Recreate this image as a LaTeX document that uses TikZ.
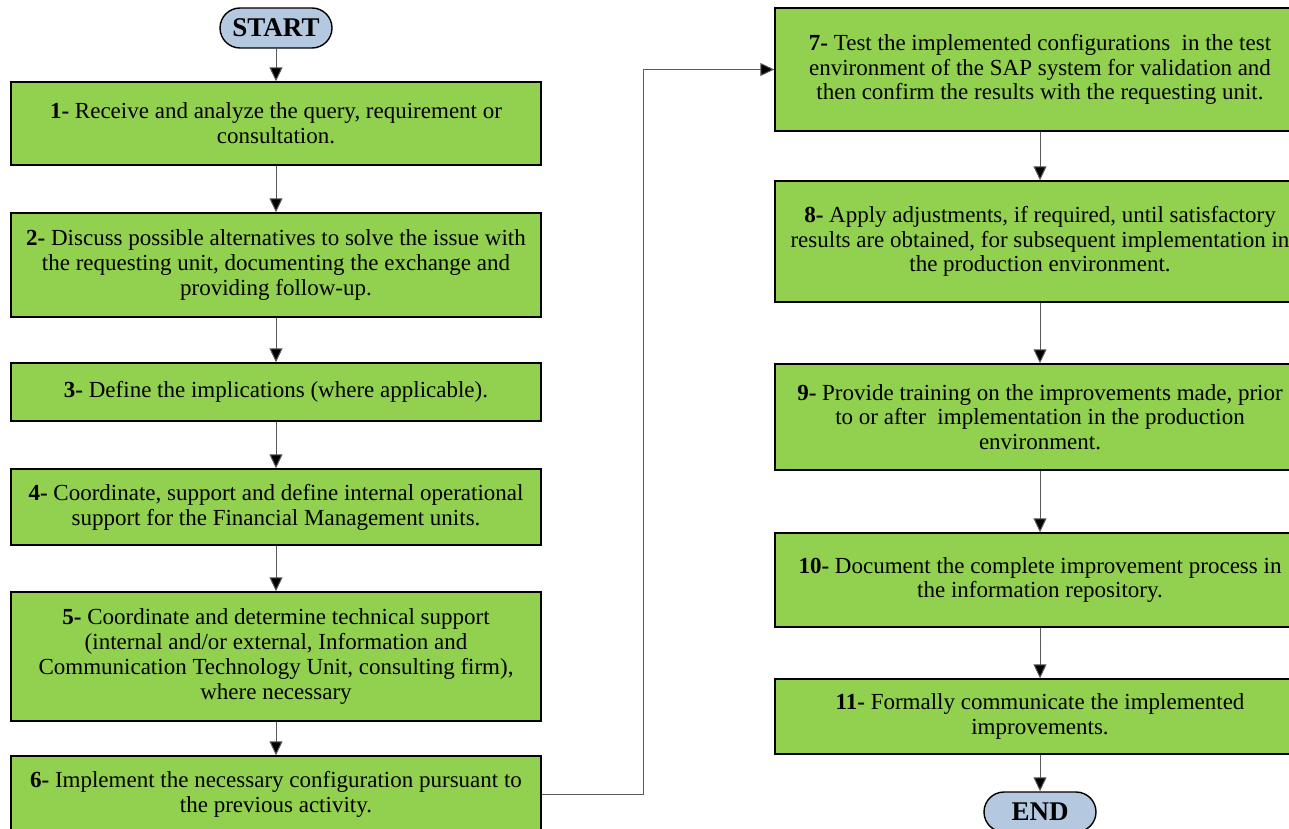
\documentclass[tikz,border=0pt]{standalone}
\usepackage{fontspec}
\setmainfont{Liberation Serif}
\usetikzlibrary{arrows.meta}
\definecolor{boxgreen}{HTML}{92D050}
\definecolor{termblue}{HTML}{B4C8E0}
\definecolor{linegray}{HTML}{5A5A5A}
\tikzset{
  stepbox/.style={draw=black, line width=1.4pt, fill=boxgreen, minimum width=530pt,
    align=center, inner sep=2pt, font=\fontsize{23}{24.8}\selectfont},
  term/.style={draw=black, line width=1.4pt, fill=termblue, rounded corners=20pt,
    minimum width=112pt, minimum height=40pt, inner sep=0pt,
    font=\fontsize{27}{30}\selectfont\bfseries},
  conn/.style={draw=linegray, line width=1pt, -{Triangle[width=13pt,length=14pt,fill=black]}},
}
\begin{document}
\begin{tikzpicture}[x=1pt,y=1pt]
\useasboundingbox (0,0) rectangle (1289,-829);
\clip (0,0) rectangle (1289,-829);
% left column
\node[term] (start) at (276,-28) {START};
\node[stepbox, minimum height=83pt] (b1) at (276,-123.5) {\textbf{1-} Receive and analyze the query, requirement or\\consultation.};
\node[stepbox, minimum height=104pt] (b2) at (276,-265) {\textbf{2-} Discuss possible alternatives to solve the issue with\\the requesting unit, documenting the exchange and\\providing follow-up.};
\node[stepbox, minimum height=58pt] (b3) at (276,-392) {\textbf{3-} Define the implications (where applicable).};
\node[stepbox, minimum height=76pt] (b4) at (276,-507) {\textbf{4-} Coordinate, support and define internal operational\\support for the Financial Management units.};
\node[stepbox, minimum height=129pt] (b5) at (276,-656.5) {\textbf{5-} Coordinate and determine technical support\\(internal and/or external, Information and\\Communication Technology Unit, consulting firm),\\where necessary};
\node[stepbox, minimum height=76pt] (b6) at (276,-794) {\textbf{6-} Implement the necessary configuration pursuant to\\the previous activity.};
% right column
\node[stepbox, minimum height=123pt] (b7) at (1040,-69.5) {\textbf{7-} Test the implemented configurations\ \ in the test\\environment of the SAP system for validation and\\then confirm the results with the requesting unit.};
\node[stepbox, minimum height=121pt] (b8) at (1040,-241.5) {\textbf{8-} Apply adjustments, if required, until satisfactory\\results are obtained, for subsequent implementation in\\the production environment.};
\node[stepbox, minimum height=106pt] (b9) at (1040,-417) {\textbf{9-} Provide training on the improvements made, prior\\to or after\ \ implementation in the production\\environment.};
\node[stepbox, minimum height=94pt] (b10) at (1040,-580) {\textbf{10-} Document the complete improvement process in\\the information repository.};
\node[stepbox, minimum height=75pt] (b11) at (1040,-716.5) {\textbf{11-} Formally communicate the implemented\\improvements.};
\node[term] (end) at (1040,-812) {END};
% connectors
\draw[conn] (start) -- (b1);
\draw[conn] (b1) -- (b2);
\draw[conn] (b2) -- (b3);
\draw[conn] (b3) -- (b4);
\draw[conn] (b4) -- (b5);
\draw[conn] (b5) -- (b6);
\coordinate (jog) at (643,-400);
\draw[conn] (b6.east) -| (jog) |- (b7.west);
\draw[conn] (b7) -- (b8);
\draw[conn] (b8) -- (b9);
\draw[conn] (b9) -- (b10);
\draw[conn] (b10) -- (b11);
\draw[conn] (b11) -- (end);
\end{tikzpicture}
\end{document}
